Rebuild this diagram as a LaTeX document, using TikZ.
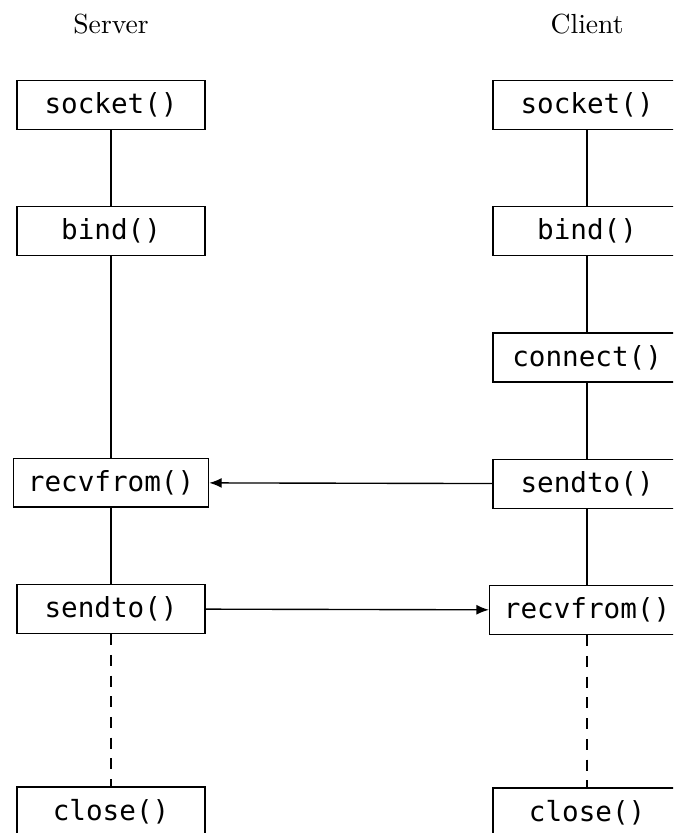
\documentclass[tikz,border=0pt]{standalone}
\usepackage{fontspec}
\setmonofont{DejaVu Sans Mono}
\usetikzlibrary{positioning,arrows.meta}

\begin{document}
\begin{tikzpicture}[line width=0.5pt]
		\tikzset{Call/.style = {draw, font=\ttfamily, minimum width=68pt, minimum height=17.7pt, inner xsep=5.2pt},
			Msg/.style = {-{Latex[length=4.5pt,width=3.6pt]}},
			Wait/.style = {dash pattern=on 4pt off 3.5pt}}
		\clip (-40.2pt,38pt) rectangle (203.4pt,-263.5pt);
		% server side
		\node[Call]    (ssock) at (0,0)                   {socket()};
		\node[Call]    (sbind) [below = 27.5pt of ssock]  {bind()};
		\node[Call]    (srecv) [below = 72.8pt of sbind]  {recvfrom()};
		\node[Call]    (ssend) [below = 27.5pt of srecv]  {sendto()};
		\node[Call]    (sclose) [below = 55.1pt of ssend] {close()};
		% client side
		\node[Call]    (csock) at (172.3pt,0)             {socket()};
		\node[Call]    (cbind) [below = 27.5pt of csock]  {bind()};
		\node[Call]    (cconn) [below = 27.5pt of cbind]  {connect()};
		\node[Call]    (csend) [below = 27.5pt of cconn]  {sendto()};
		\node[Call]    (crecv) [below = 27.5pt of csend]  {recvfrom()};
		\node[Call]    (cclose) [below = 55.1pt of crecv] {close()};
		\node          (server) [above = 13pt of ssock]   {Server};
		\node          (client) [above = 13pt of csock]   {Client};
		\draw (ssock) -- (sbind);
		\draw (sbind) -- (srecv);
		\draw (srecv) -- (ssend);
		\draw [Wait] (ssend) -- (sclose);
		\draw (csock) -- (cbind);
		\draw (cbind) -- (cconn);
		\draw (cconn) -- (csend);
		\draw (csend) -- (crecv);
		\draw [Wait] (crecv) -- (cclose);
		\draw [Msg] (csend) -- (srecv);
		\draw [Msg] (ssend) -- (crecv);
	\end{tikzpicture}
\end{document}
